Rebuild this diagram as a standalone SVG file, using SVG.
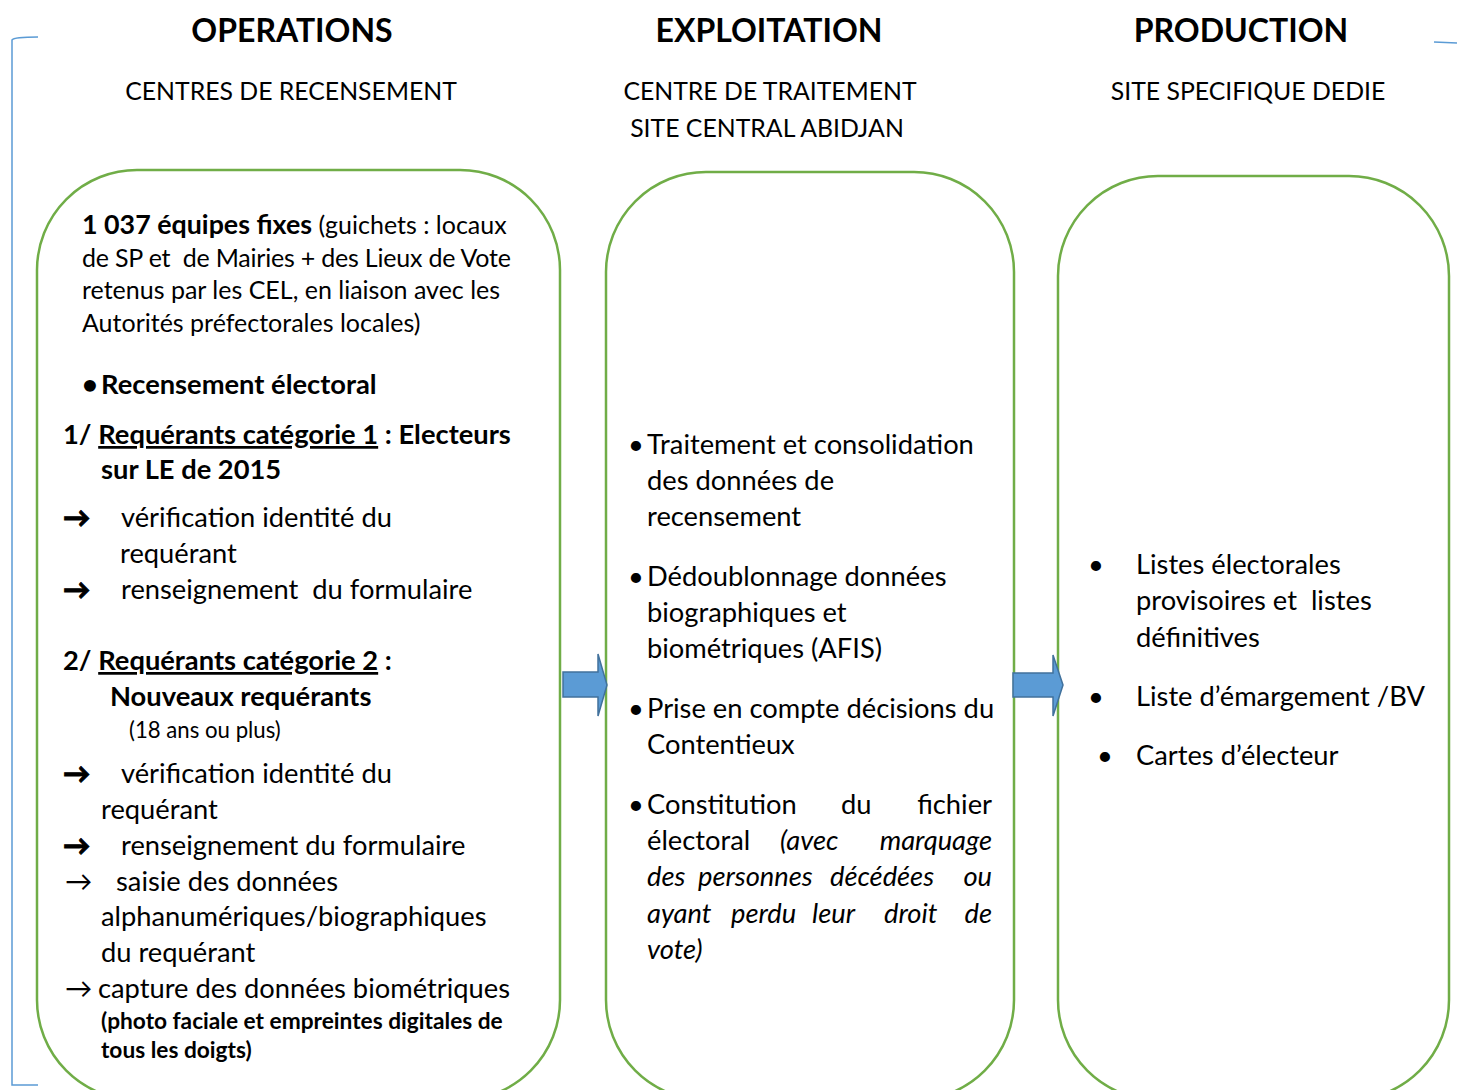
<svg xmlns="http://www.w3.org/2000/svg" width="1457" height="1090" viewBox="0 0 1457 1090">
<style>
text{font-family:Lato,"Liberation Sans",sans-serif;fill:#000;font-size:27.3px}
.t{font-weight:bold;font-size:32px;text-anchor:middle}
.s{text-anchor:middle;font-size:24.8px}
.b{font-weight:bold}
.i{font-style:italic}
text.a{font-weight:900;stroke:#000;stroke-width:0.8}
text.p{font-size:25px}
.pb{font-weight:bold;font-size:26.8px}
text.sm{font-size:22.2px}
text.sb{font-size:22.7px;font-weight:bold}
.box{fill:none;stroke:#70AD47;stroke-width:2.5}
.arr{fill:#5B9BD5;stroke:#41719C;stroke-width:1.5}
.br{fill:none;stroke:#5B9BD5;stroke-width:1.5}
</style>
<rect width="1457" height="1090" fill="#fff"/>
<g id="bracket">
<path class="br" d="M38,37 Q14,37 12,40 L12,1085 L38,1085"/>
<path class="br" d="M1434,42 L1457,43"/>
</g>
<g id="headers">
<text class="t" x="292" y="42">OPERATIONS</text>
<text class="t" x="769" y="42">EXPLOITATION</text>
<text class="t" x="1241" y="42">PRODUCTION</text>
<text class="s" x="291" y="100">CENTRES DE RECENSEMENT</text>
<text class="s" x="770" y="100">CENTRE DE TRAITEMENT</text>
<text class="s" x="767" y="137">SITE CENTRAL ABIDJAN</text>
<text class="s" x="1248" y="100">SITE SPECIFIQUE DEDIE</text>
</g>
<g id="operations">
<rect class="box" x="37" y="170" width="523" height="930" rx="100" ry="100"/>
<text class="p" x="82" y="234"><tspan class="pb">1 037 équipes fixes</tspan> (guichets : locaux</text>
<text class="p" x="82" y="267" textLength="429">de SP et&#160; de Mairies + des Lieux de Vote</text>
<text class="p" x="82" y="299">retenus par les CEL, en liaison avec les</text>
<text class="p" x="82" y="332">Autorités préfectorales locales)</text>
<text class="b" x="82" y="394">•</text><text class="b" x="101" y="394">Recensement électoral</text>
<text class="b" x="63" y="444">1/ <tspan text-decoration="underline">Requérants catégorie 1</tspan> : Electeurs</text>
<text class="b" x="101" y="479">sur LE de 2015</text>
<text class="a" x="63" y="527">→</text><text x="121" y="527">vérification identité du</text>
<text x="120" y="563">requérant</text>
<text class="a" x="63" y="599">→</text><text x="121" y="599">renseignement&#160; du formulaire</text>
<text class="b" x="63" y="670">2/ <tspan text-decoration="underline">Requérants catégorie 2</tspan> :</text>
<text class="b" x="110" y="706">Nouveaux requérants</text>
<text class="sm" x="129" y="738">(18 ans ou plus)</text>
<text class="a" x="63" y="783">→</text><text x="121" y="783">vérification identité du</text>
<text x="101" y="819">requérant</text>
<text class="a" x="63" y="855">→</text><text x="121" y="855">renseignement du formulaire</text>
<text x="65" y="891">→</text><text x="116" y="891">saisie des données</text>
<text x="101" y="926">alphanumériques/biographiques</text>
<text x="101" y="962">du requérant</text>
<text x="65" y="998">→</text><text x="98" y="998">capture des données biométriques</text>
<text class="sb" x="101" y="1029">(photo faciale et empreintes digitales de</text>
<text class="sb" x="101" y="1058">tous les doigts)</text>
</g>
<g id="exploitation">
<rect class="box" x="606" y="172" width="408" height="928" rx="100" ry="100"/>
<text x="628" y="454">•</text><text x="647" y="454">Traitement et consolidation</text>
<text x="647" y="490">des données de</text>
<text x="647" y="526">recensement</text>
<text x="628" y="586">•</text><text x="647" y="586">Dédoublonnage données</text>
<text x="647" y="622">biographiques et</text>
<text x="647" y="658">biométriques (AFIS)</text>
<text x="628" y="718">•</text><text x="647" y="718">Prise en compte décisions du</text>
<text x="647" y="754">Contentieux</text>
<text x="628" y="814">•</text><text x="647" y="814">Constitution</text><text x="841" y="814">du</text><text x="992" y="814" text-anchor="end">fichier</text>
<text x="647" y="850">électoral</text><text class="i" x="780" y="850">(avec</text><text class="i" x="992" y="850" text-anchor="end">marquage</text>
<text class="i" x="647" y="886">des</text><text class="i" x="698" y="886">personnes</text><text class="i" x="830" y="886">décédées</text><text class="i" x="992" y="886" text-anchor="end">ou</text>
<text class="i" x="647" y="923">ayant</text><text class="i" x="731" y="923">perdu</text><text class="i" x="812" y="923">leur</text><text class="i" x="884" y="923">droit</text><text class="i" x="992" y="923" text-anchor="end">de</text>
<text class="i" x="647" y="959">vote)</text>
</g>
<g id="production">
<rect class="box" x="1058" y="176" width="391" height="924" rx="100" ry="100"/>
<text x="1088" y="574">•</text><text x="1136" y="574">Listes électorales</text>
<text x="1136" y="610">provisoires et&#160; listes</text>
<text x="1136" y="647">définitives</text>
<text x="1088" y="706">•</text><text x="1136" y="706">Liste d’émargement /BV</text>
<text x="1097" y="765">•</text><text x="1136" y="765">Cartes d’électeur</text>
</g>
<g id="connectors">
<path class="arr" d="M563,672 L598,672 L598,654 L607,685 L598,716 L598,697 L563,697 Z"/>
<path class="arr" d="M1013,673 L1053,673 L1053,655 L1063,685 L1053,716 L1053,697 L1013,697 Z"/>
</g>
</svg>
